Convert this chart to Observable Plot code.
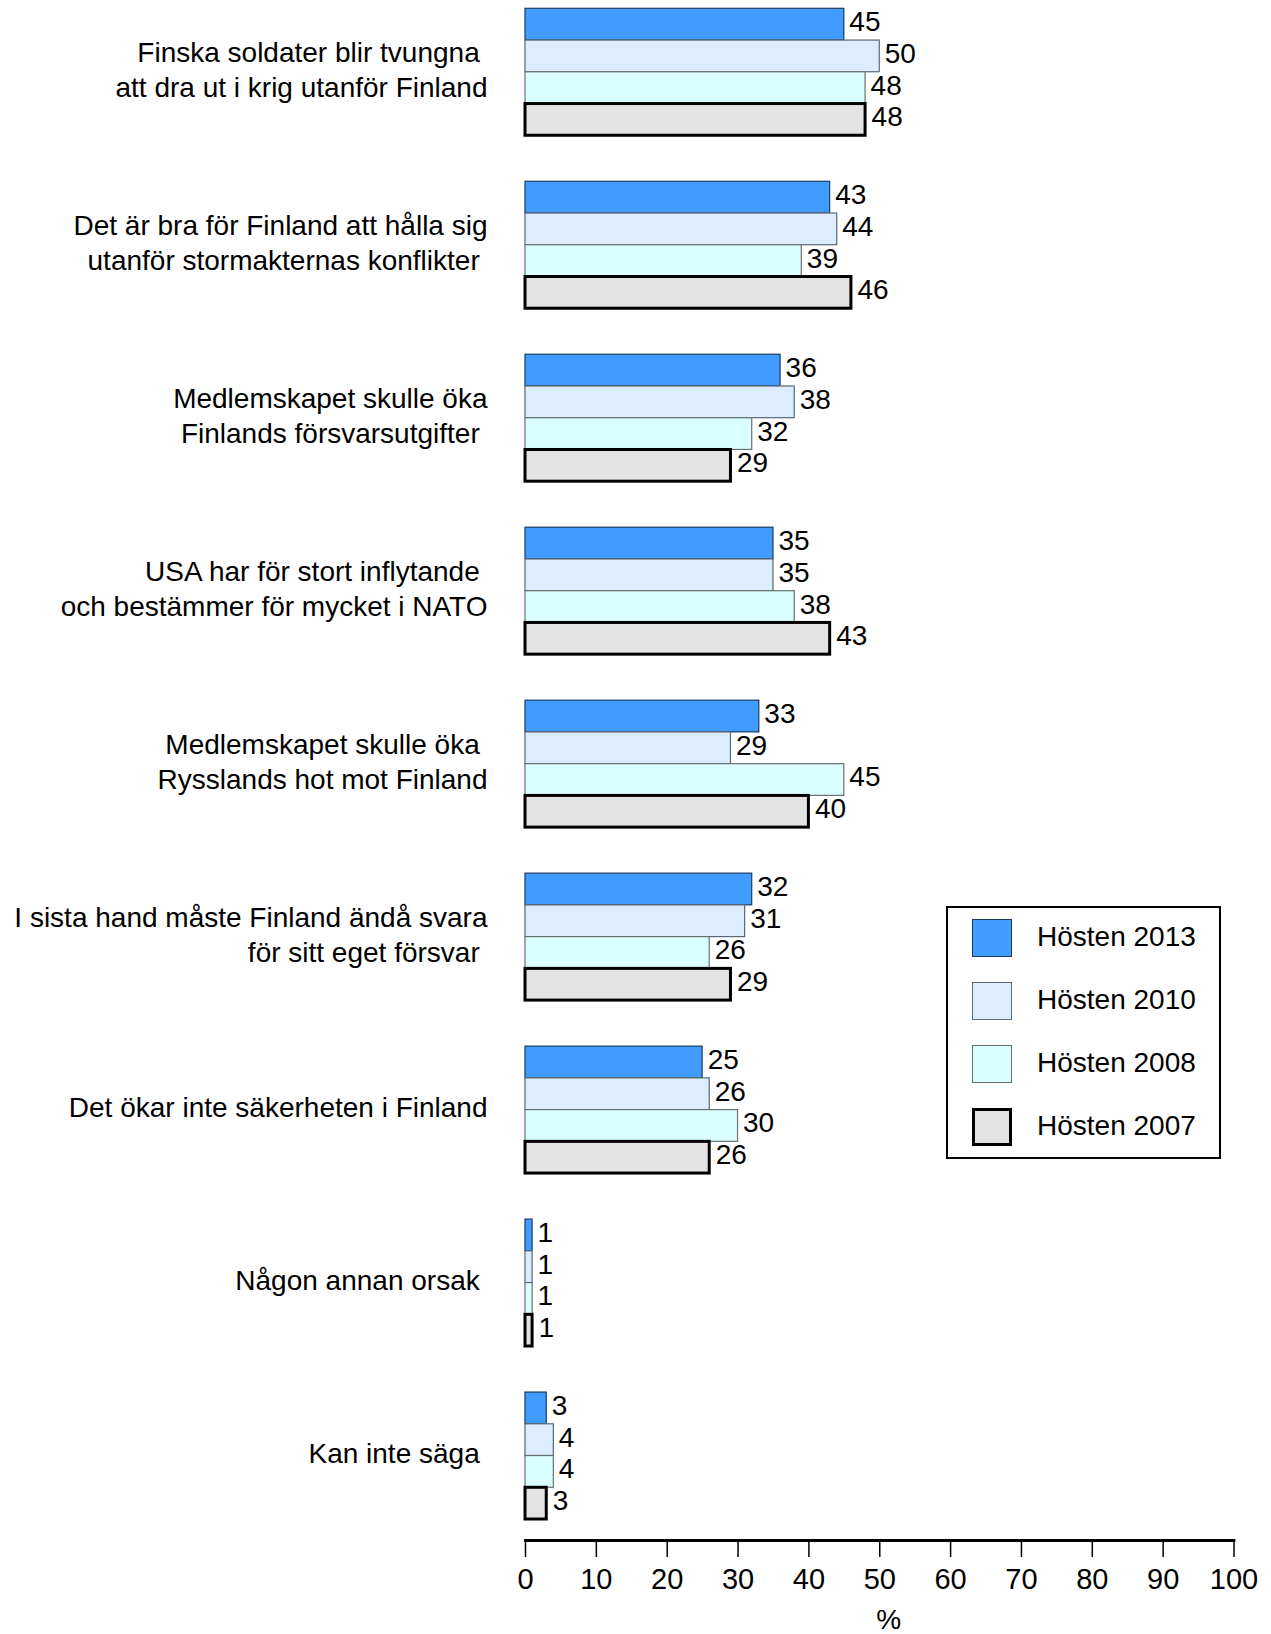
<!DOCTYPE html>
<html><head><meta charset="utf-8">
<script src="https://cdn.jsdelivr.net/npm/d3@7"></script>
<script src="https://cdn.jsdelivr.net/npm/@observablehq/plot@0.6"></script>
<style>
body{margin:0;background:#fff;font-family:Arial,"Liberation Sans",sans-serif;}
#wrap{position:relative;width:1271px;height:1634px;}
#legend{position:absolute;left:946px;top:906px;width:275px;height:253px;border:2.5px solid #000;box-sizing:border-box;background:#fff;}
.sw{position:absolute;left:23.5px;width:40px;height:38px;box-sizing:border-box;}
.lab{position:absolute;left:89px;height:38px;line-height:38px;font-size:28px;white-space:nowrap;color:#000;}
</style></head>
<body><div id="wrap"></div>
<script>
const categories = [
  "Finska soldater blir tvungna\u00a0\natt dra ut i krig utanför Finland",
  "Det är bra för Finland att hålla sig\nutanför stormakternas konflikter\u00a0",
  "Medlemskapet skulle öka\nFinlands försvarsutgifter\u00a0",
  "USA har för stort inflytande\u00a0\noch bestämmer för mycket i NATO",
  "Medlemskapet skulle öka\u00a0\nRysslands hot mot Finland",
  "I sista hand måste Finland ändå svara\nför sitt eget försvar\u00a0",
  "Det ökar inte säkerheten i Finland",
  "Någon annan orsak\u00a0",
  "Kan inte säga\u00a0"
];
const series = ["Hösten 2013", "Hösten 2010", "Hösten 2008", "Hösten 2007"];
const v2013 = [45, 43, 36, 35, 33, 32, 25, 1, 3];
const v2010 = [50, 44, 38, 35, 29, 31, 26, 1, 4];
const v2008 = [48, 39, 32, 38, 45, 26, 30, 1, 4];
const v2007 = [48, 46, 29, 43, 40, 29, 26, 1, 3];
const xTicks = [0, 10, 20, 30, 40, 50, 60, 70, 80, 90, 100];
const axisLabel = "%";
const fills = ["#409cff", "#dbedff", "#d9ffff", "#e3e3e3"];
const strokes = ["#1d3a5c", "#5b6775", "#6a7070", "#000000"];
const strokeWidths = [1.2, 1.2, 1.2, 3];

const values = [v2013, v2010, v2008, v2007];
const rows = categories.flatMap((c, i) => series.map((s, j) => ({cat: c, series: s, value: values[j][i]})));

const bandH = 127;
const subH = bandH / 4;
const marks = [];
series.forEach((s, j) => {
  const data = rows.filter(d => d.series === s);
  marks.push(Plot.barX(data, {
    x: "value", y: "cat", fill: "series",
    stroke: strokes[j], strokeWidth: strokeWidths[j],
    insetTop: j * subH, insetBottom: (3 - j) * subH
  }));
  marks.push(Plot.text(data, {
    x: "value", y: "cat", text: d => String(d.value),
    dx: j === 3 ? 6 : 5, dy: j * subH + subH / 2 - bandH / 2 - 2.5,
    textAnchor: "start", fontSize: 28, fill: "#000"
  }));
});

const chart = Plot.plot({
  width: 1271, height: 1634,
  marginTop: 8.3, marginBottom: 94, marginLeft: 525, marginRight: 37.5,
  style: {fontFamily: "Arial, 'Liberation Sans', sans-serif", background: "#fff", color: "#000"},
  x: {domain: [0, 100]},
  y: {domain: categories, paddingInner: 0.266, paddingOuter: 0, insetBottom: 21, round: false},
  color: {domain: series, range: fills},
  marks: [
    ...marks,
    Plot.axisY({tickSize: 0, tickPadding: 38, dy: -4, fontSize: 28, lineHeight: 1.26, label: null}),
    Plot.axisX({anchor: "bottom", ticks: xTicks, tickSize: 17, tickPadding: 11, fontSize: 29,
      strokeWidth: 1.5, label: null}),
    Plot.text([axisLabel], {frameAnchor: "bottom", text: d => d, dy: 80, dx: 9, fontSize: 28, lineAnchor: "middle", fill: "#000"}),
    Plot.frame({anchor: "bottom", strokeWidth: 2.8, stroke: "#000"})
  ]
});
const wrap = document.getElementById("wrap");
wrap.appendChild(chart);

const legend = document.createElement("div");
legend.id = "legend";
series.forEach((s, j) => {
  const top = 10.5 + j * 63.3;
  const sw = document.createElement("div");
  sw.className = "sw";
  sw.style.top = top + "px";
  sw.style.background = fills[j];
  sw.style.border = (j === 3 ? "3px" : "1.3px") + " solid " + strokes[j];
  legend.appendChild(sw);
  const lab = document.createElement("div");
  lab.className = "lab";
  lab.textContent = s;
  lab.style.top = (top - 1) + "px";
  legend.appendChild(lab);
});
wrap.appendChild(legend);
</script>
</body></html>
